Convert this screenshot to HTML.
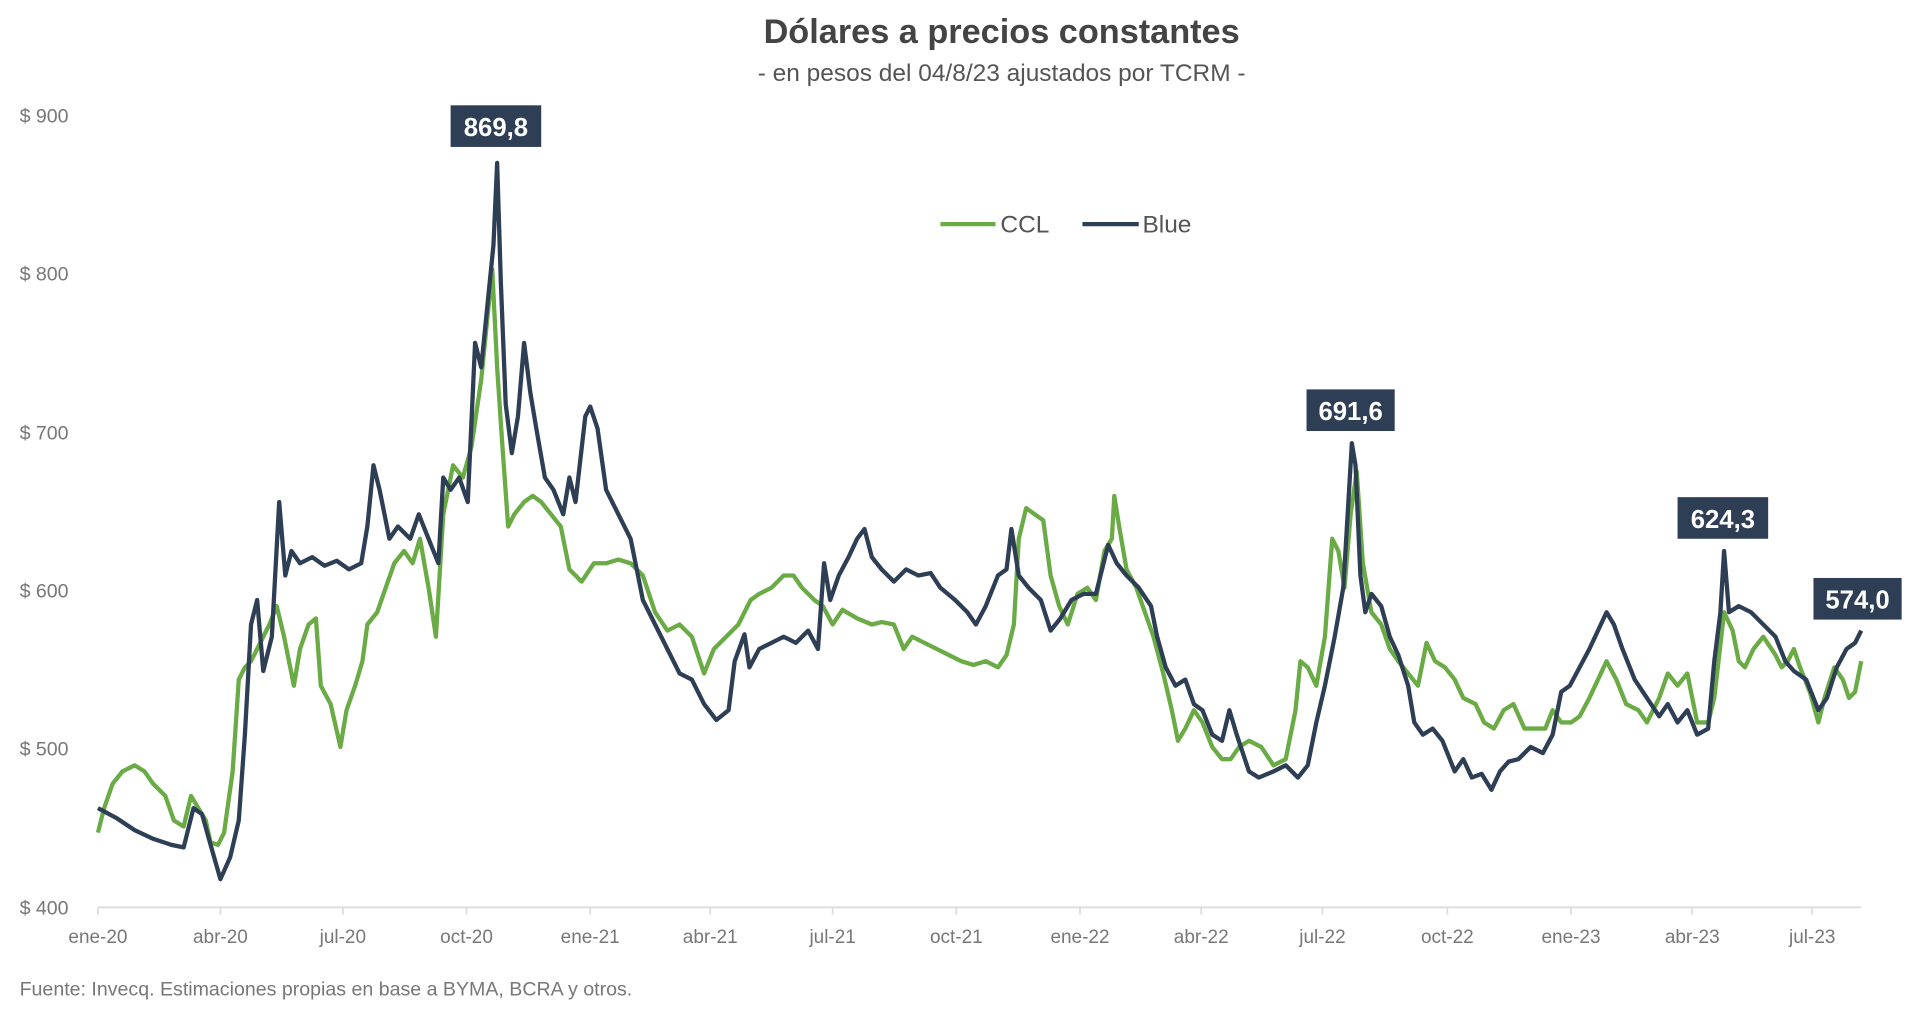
<!DOCTYPE html>
<html><head><meta charset="utf-8"><style>
html,body{margin:0;padding:0;background:#fff;width:1920px;height:1020px;overflow:hidden}
svg{display:block}
text{font-family:"Liberation Sans",sans-serif}
</style></head><body>
<svg width="1920" height="1020" viewBox="0 0 1568 833" preserveAspectRatio="none" xmlns="http://www.w3.org/2000/svg">
<text x="818" y="35" text-anchor="middle" font-size="28" font-weight="bold" fill="#444">Dólares a precios constantes</text>
<text x="818" y="66" text-anchor="middle" font-size="20" fill="#555">- en pesos del 04/8/23 ajustados por TCRM -</text>
<g font-size="16" fill="#777">
<text x="16" y="100">$ 900</text><text x="16" y="229">$ 800</text><text x="16" y="359">$ 700</text><text x="16" y="488">$ 600</text><text x="16" y="617">$ 500</text><text x="16" y="747">$ 400</text>
</g>
<line x1="80" y1="741" x2="1520" y2="741" stroke="#ddd" stroke-width="1.5"/>
<g stroke="#ddd" stroke-width="1.5">
<line x1="80" y1="741" x2="80" y2="747"/><line x1="180" y1="741" x2="180" y2="747"/><line x1="280" y1="741" x2="280" y2="747"/><line x1="381" y1="741" x2="381" y2="747"/><line x1="482" y1="741" x2="482" y2="747"/><line x1="580" y1="741" x2="580" y2="747"/><line x1="680" y1="741" x2="680" y2="747"/><line x1="781" y1="741" x2="781" y2="747"/><line x1="882" y1="741" x2="882" y2="747"/><line x1="981" y1="741" x2="981" y2="747"/><line x1="1080" y1="741" x2="1080" y2="747"/><line x1="1182" y1="741" x2="1182" y2="747"/><line x1="1283" y1="741" x2="1283" y2="747"/><line x1="1382" y1="741" x2="1382" y2="747"/><line x1="1480" y1="741" x2="1480" y2="747"/>
</g>
<g font-size="15.5" fill="#777" text-anchor="middle">
<text x="80" y="770">ene-20</text><text x="180" y="770">abr-20</text><text x="280" y="770">jul-20</text><text x="381" y="770">oct-20</text><text x="482" y="770">ene-21</text><text x="580" y="770">abr-21</text><text x="680" y="770">jul-21</text><text x="781" y="770">oct-21</text><text x="882" y="770">ene-22</text><text x="981" y="770">abr-22</text><text x="1080" y="770">jul-22</text><text x="1182" y="770">oct-22</text><text x="1283" y="770">ene-23</text><text x="1382" y="770">abr-23</text><text x="1480" y="770">jul-23</text>
</g>
<text x="16" y="813" font-size="16" fill="#777">Fuente: Invecq. Estimaciones propias en base a BYMA, BCRA y otros.</text>
<polyline fill="none" stroke="#6aab45" stroke-width="3.5" stroke-linejoin="round" points="80,680 85,660 92,640 100,630 110,625 118,630 125,640 135,650 142,670 150,675 156,650 162,660 168,670 172,688 178,690 183,680 190,630 195,555 200,545 205,540 210,530 215,520 220,510 226,495 232,520 240,560 245,530 252,510 258,505 262,560 270,575 278,610 283,580 290,560 296,540 300,510 308,500 315,480 322,460 330,450 337,460 343,440 350,480 356,520 362,420 370,380 378,390 385,365 393,310 398,260 402,220 406,300 410,360 415,430 420,420 428,410 435,405 442,410 450,420 458,430 465,465 475,475 485,460 495,460 505,457 515,460 525,470 535,500 545,515 555,510 565,520 575,550 583,530 593,520 603,510 613,490 620,485 630,480 640,470 648,470 655,480 665,490 672,495 680,510 688,498 700,505 712,510 720,508 730,510 738,530 745,520 755,525 765,530 775,535 785,540 795,543 805,540 815,545 822,535 828,510 832,440 838,415 845,420 852,425 858,470 865,495 872,510 880,485 888,480 895,490 902,450 908,440 910,405 914,430 920,465 928,480 935,500 942,520 950,550 957,580 962,605 968,595 975,580 982,590 990,610 998,620 1005,620 1012,610 1020,605 1030,610 1040,625 1050,620 1058,580 1062,540 1068,545 1075,560 1082,520 1088,440 1093,450 1098,480 1103,420 1108,385 1113,460 1120,500 1128,510 1135,530 1142,540 1150,550 1158,560 1165,525 1172,540 1180,545 1188,555 1195,570 1205,575 1212,590 1220,595 1228,580 1236,575 1245,595 1255,595 1262,595 1268,580 1275,590 1283,590 1290,585 1298,570 1305,555 1312,540 1320,555 1328,575 1338,580 1345,590 1355,570 1362,550 1370,560 1378,550 1386,590 1395,590 1400,570 1408,500 1415,515 1420,540 1425,545 1432,530 1440,520 1450,535 1455,545 1460,540 1465,530 1470,545 1478,565 1485,590 1490,570 1498,545 1505,555 1510,570 1515,565 1520,540"/>
<polyline fill="none" stroke="#2e3f55" stroke-width="3.5" stroke-linejoin="round" points="80,660 95,668 110,678 125,685 140,690 150,692 158,660 165,665 172,690 180,718 188,700 195,670 200,600 205,510 210,490 215,548 222,520 228,410 233,470 238,450 245,460 255,455 265,462 275,458 285,465 295,460 300,430 305,380 310,400 318,440 325,430 335,440 342,420 350,440 358,460 362,390 368,400 375,390 382,410 388,280 393,300 398,250 403,200 406,133 409,230 413,330 418,370 423,340 428,280 433,320 438,350 445,390 452,400 460,420 465,390 470,410 478,340 482,332 488,350 495,400 505,420 515,440 525,490 535,510 545,530 555,550 565,555 575,575 585,588 595,580 600,540 608,518 612,545 620,530 630,525 640,520 650,525 660,515 668,530 673,460 678,490 685,470 693,455 700,440 706,432 712,455 720,465 730,475 740,465 750,470 760,468 768,480 780,490 790,500 797,510 805,495 815,470 822,465 826,432 832,470 840,480 850,490 858,515 866,505 875,490 885,485 895,485 905,445 912,460 920,470 930,480 940,495 945,520 952,545 960,560 968,555 975,575 982,580 990,600 998,605 1004,580 1010,600 1020,630 1028,635 1040,630 1050,625 1060,635 1068,625 1075,590 1082,560 1090,520 1097,480 1100,430 1104,362 1107,380 1111,470 1115,500 1120,485 1128,495 1135,520 1142,535 1150,560 1155,590 1162,600 1170,595 1178,605 1188,630 1195,620 1202,635 1210,632 1218,645 1225,630 1232,622 1240,620 1250,610 1260,615 1268,600 1275,565 1282,560 1290,545 1298,530 1305,515 1312,500 1318,510 1325,530 1335,555 1345,570 1355,585 1362,575 1370,590 1378,580 1386,600 1395,595 1400,540 1405,500 1408,450 1412,500 1420,495 1430,500 1440,510 1450,520 1458,540 1465,548 1475,555 1485,580 1492,570 1500,545 1508,530 1515,525 1520,515"/>
<line x1="768" y1="183" x2="813" y2="183" stroke="#6aab45" stroke-width="3.5"/>
<text x="817" y="190" font-size="20" fill="#555">CCL</text>
<line x1="884" y1="183" x2="930" y2="183" stroke="#2e3f55" stroke-width="3.5"/>
<text x="933" y="190" font-size="20" fill="#555">Blue</text>
<g font-size="21" font-weight="bold" fill="#fff" text-anchor="middle">
<rect x="368" y="86" width="74" height="34" fill="#2e3f55"/><text x="405" y="111">869,8</text>
<rect x="1067" y="318" width="72" height="34" fill="#2e3f55"/><text x="1103" y="343">691,6</text>
<rect x="1370" y="406" width="74" height="34" fill="#2e3f55"/><text x="1407" y="431">624,3</text>
<rect x="1481" y="472" width="72" height="34" fill="#2e3f55"/><text x="1517" y="497">574,0</text>
</g>
</svg>
</body></html>
